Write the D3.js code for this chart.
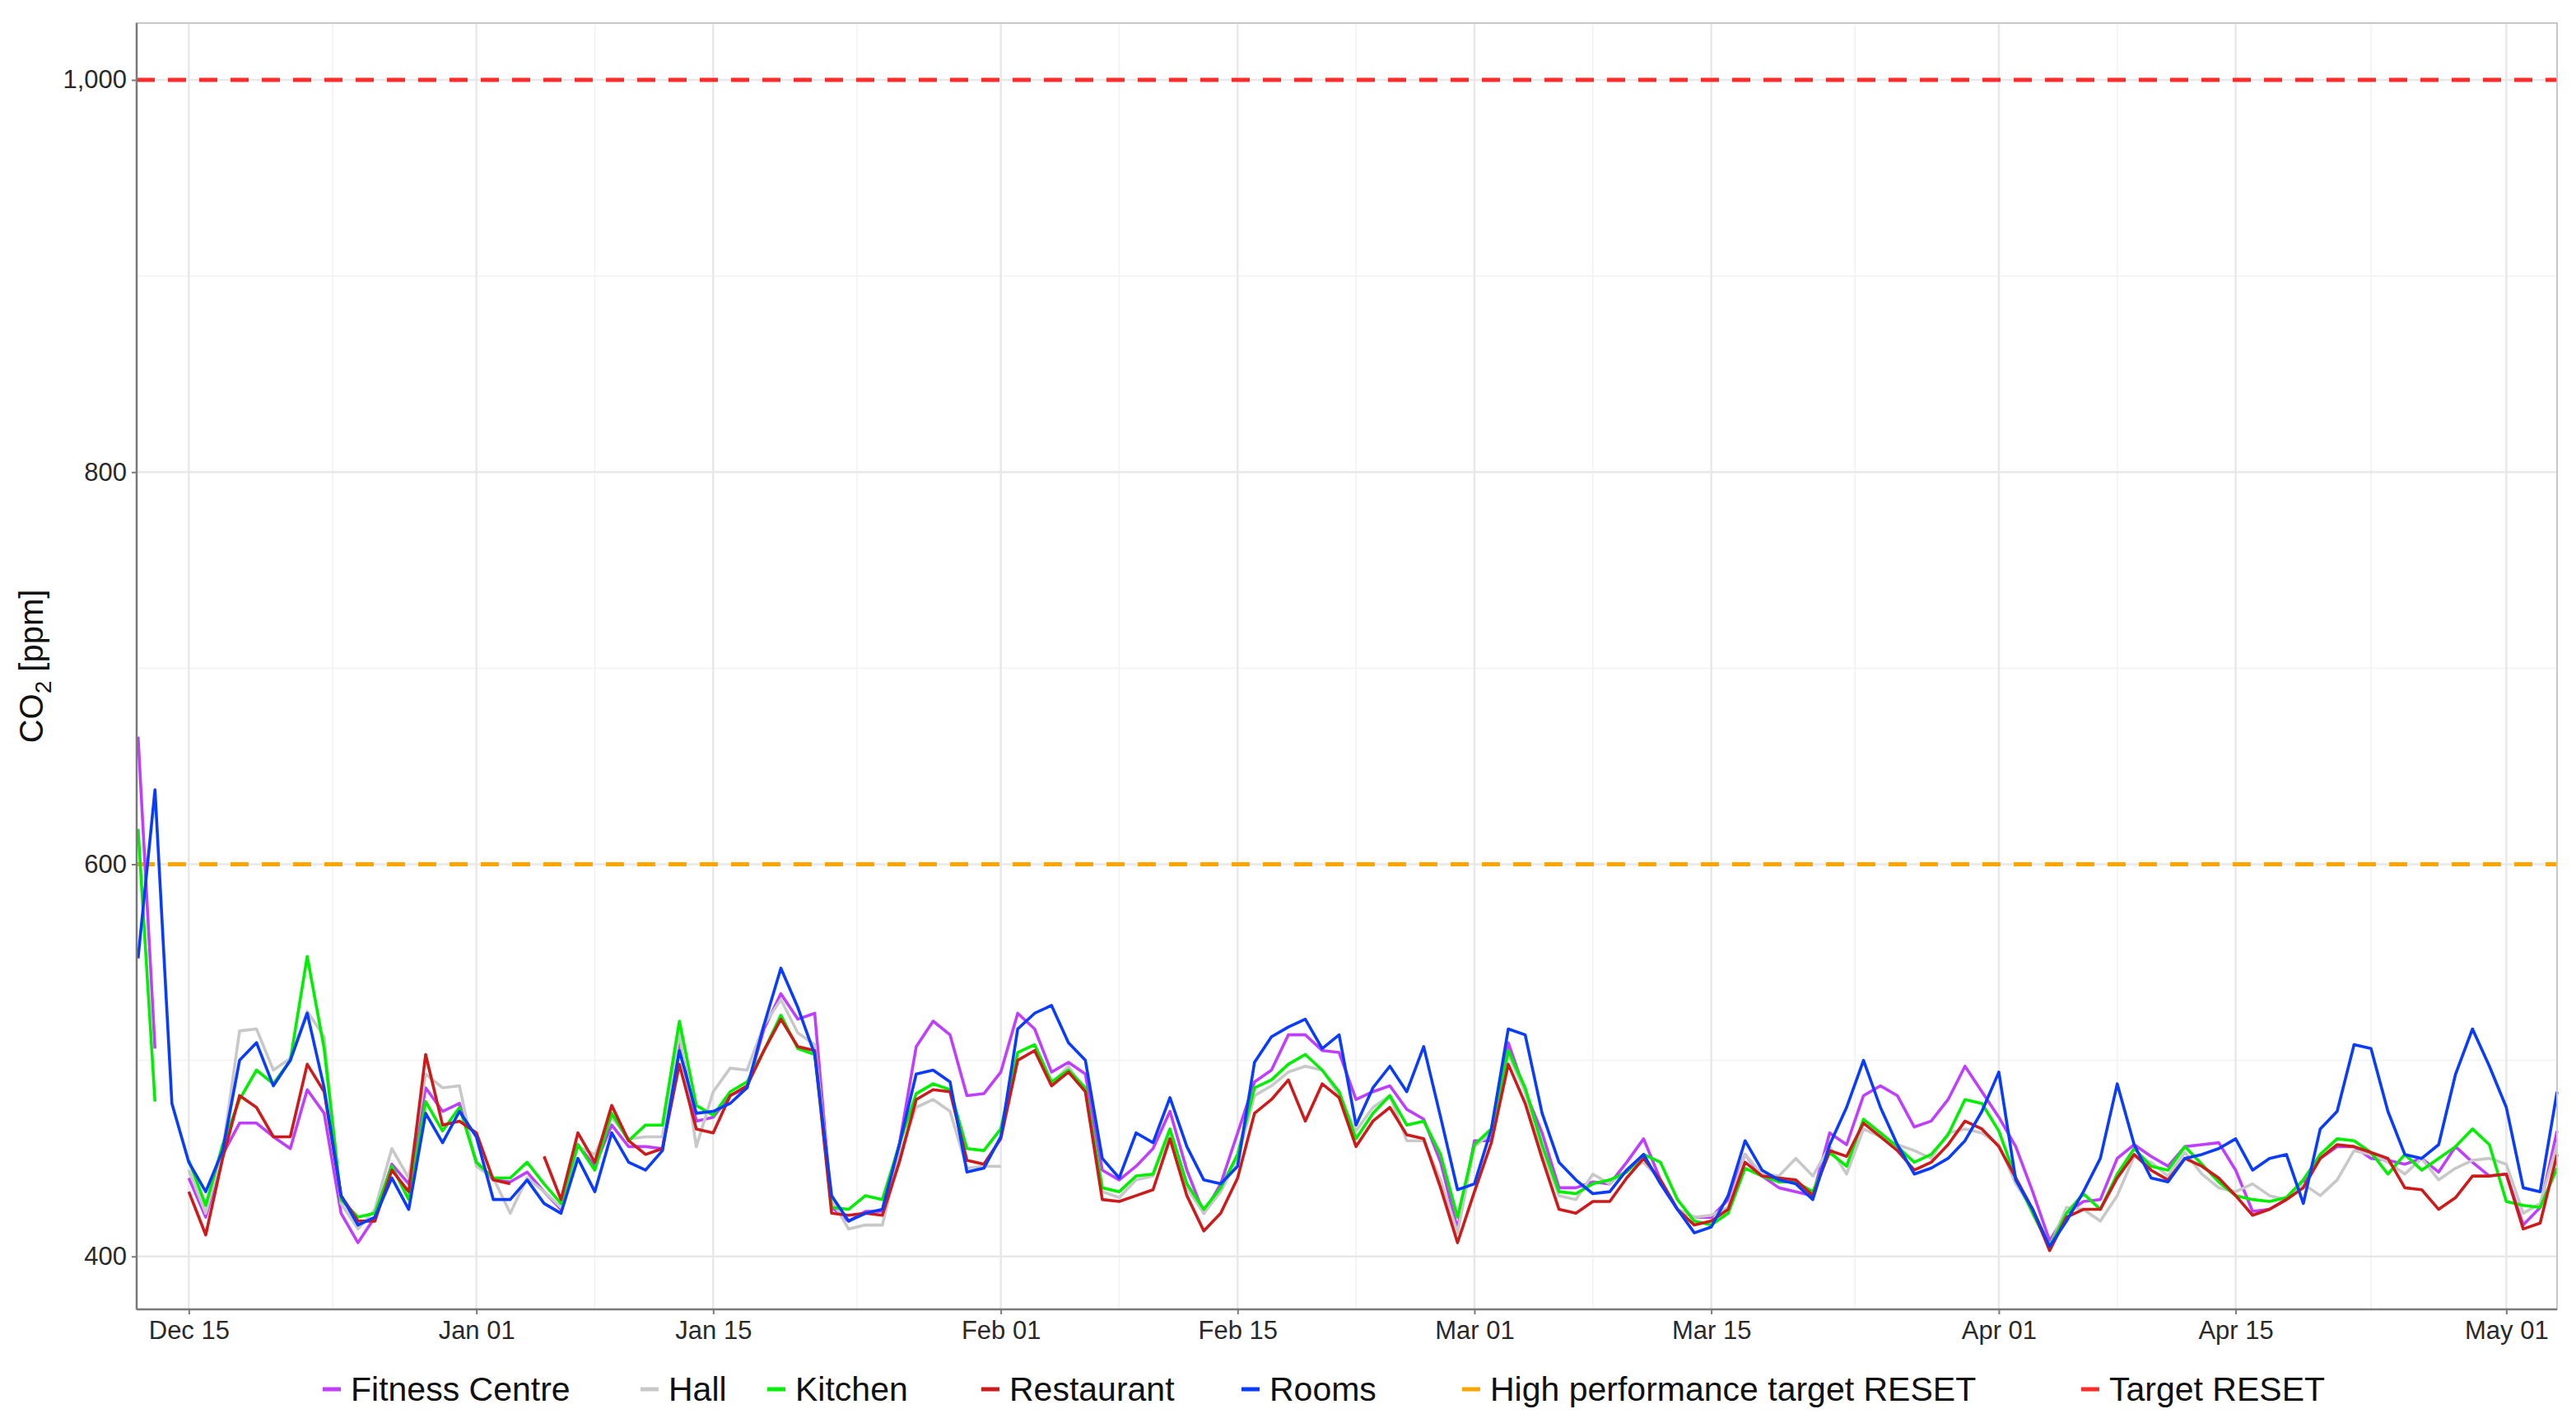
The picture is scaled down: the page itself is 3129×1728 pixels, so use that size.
<!DOCTYPE html>
<html>
<head>
<meta charset="utf-8">
<script src="https://cdn.jsdelivr.net/npm/d3@7"></script>
<style>
  body { margin: 0; background: white; }
  text { font-family: "Liberation Sans", Arial, sans-serif; }
</style>
</head>
<body>
<div id="chart"></div>
<script>
// daily values from Dec 12 (index 0) to May 03 (index 143)
const startDate = new Date(Date.UTC(2018, 11, 12));

const fitness = [665,506,null,440,420,452,468,468,461,455,485,473,422,407,420,447,437,486,474,478,448,439,438,443,433,424,457,446,467,456,456,455,510,469,471,482,486,516,534,521,524,425,418,
  423,423,457,507,520,513,482,483,494,524,516,494,499,493,444,439,446,455,474,444,422,437,463,489,495,513,513,505,504,480,484,487,475,470,448,414,459,459,509,484,463,435,
  435,438,437,448,460,439,424,420,420,429,452,441,435,433,431,463,457,482,487,482,466,469,480,497,484,471,456,433,408,422,428,429,450,457,451,446,456,457,458,444,423,424,429,437,
  450,456,456,450,449,447,450,443,456,448,441,442,416,425,464];
const hall = [null,null,null,444,422,454,515,516,495,501,525,512,427,414,424,455,440,493,486,487,446,440,422,440,433,425,456,452,471,460,461,461,514,456,484,496,495,518,531,514,508,429,414,
  416,416,452,476,480,474,445,446,446,null,505,488,497,484,433,430,439,441,463,435,422,433,450,482,487,494,497,495,482,464,476,482,459,459,439,412,456,463,503,484,454,431,
  429,442,437,444,448,439,424,420,421,425,452,442,441,450,441,456,442,465,461,457,454,450,463,465,463,457,437,424,405,425,424,418,431,451,448,441,453,442,435,433,437,431,429,437,
  431,439,454,452,448,442,450,439,445,449,450,447,422,427,457];
const kitchen = [618,479,null,449,426,457,480,495,488,500,553,506,429,420,422,446,429,479,464,476,448,440,440,448,437,427,457,444,473,459,467,467,520,477,472,484,489,505,523,506,503,425,424,
  431,429,457,483,488,485,455,454,465,504,508,489,495,486,435,433,441,442,465,437,424,435,452,486,490,498,503,495,484,460,473,482,467,469,452,420,457,465,505,486,457,433,
  432,437,439,443,452,448,429,418,416,422,445,441,438,438,433,453,446,470,463,456,448,452,462,480,478,464,440,422,405,422,432,424,442,455,446,444,456,447,438,431,429,428,430,439,
  452,460,459,453,442,452,444,450,456,465,457,428,426,425,445];
const restaurant = [null,null,null,433,411,450,482,476,461,461,498,484,431,418,418,444,433,503,467,469,463,439,437,null,451,429,463,448,477,459,452,455,498,465,463,482,487,505,521,507,505,422,421,
  422,421,448,480,485,484,449,447,460,500,505,487,494,484,429,428,431,434,460,431,413,422,440,473,480,490,469,488,481,456,469,476,462,460,435,407,433,458,498,478,450,424,
  422,428,428,440,450,439,424,416,418,424,448,441,440,439,431,454,451,468,461,454,444,448,457,469,465,456,440,424,403,420,424,424,440,452,444,439,450,446,440,431,421,424,429,435,
  450,457,456,453,450,435,434,424,430,441,441,442,414,417,452];
const rooms = [552,638,478,448,433,454,500,509,487,500,524,486,431,416,420,440,424,473,458,474,461,429,429,439,427,422,450,433,463,448,444,454,505,473,474,478,486,518,547,527,503,431,418,
  422,424,457,493,495,489,443,445,461,516,524,528,509,500,450,440,463,458,481,456,439,437,446,499,512,517,521,506,513,467,486,497,484,507,471,434,437,465,516,513,473,448,
  439,432,433,444,452,437,424,412,415,431,459,444,439,437,429,457,476,500,476,457,442,445,450,459,474,494,439,424,405,418,433,450,488,457,440,438,450,452,455,460,444,450,452,427,
  465,474,508,506,474,452,450,457,493,516,497,476,435,433,484];

const seriesNames = ["Fitness Centre", "Hall", "Kitchen", "Restaurant", "Rooms"];
const seriesValues = [fitness, hall, kitchen, restaurant, rooms];
const seriesColors = ["#bf3eff", "#c8c8c8", "#00ee00", "#cd1b1b", "#0a3cff"];

const targetNames = ["High performance target RESET", "Target RESET"];
const targetValues = [600, 1000];
const targetColors = ["#ffa500", "#ff2a2a"];

const yTicks = [400, 600, 800, 1000];
const xTickDates = [[2018,11,15],[2019,0,1],[2019,0,15],[2019,1,1],[2019,1,15],[2019,2,1],[2019,2,15],[2019,3,1],[2019,3,15],[2019,4,1]]
  .map(d => new Date(Date.UTC(d[0], d[1], d[2])));

let width = 3129, height = 1728;
let margin = { left: 166, right: 23, top: 28, bottom: 138 };
let iw = width - margin.left - margin.right;
let ih = height - margin.top - margin.bottom;

let dates = fitness.map((v, i) => d3.utcDay.offset(startDate, i));

let x = d3.scaleUtc()
  .domain([d3.utcHour.offset(dates[0], -2), dates[dates.length - 1]])
  .range([0, iw]);
let y = d3.scaleLinear().domain([373, 1029]).range([ih, 0]);

let svg = d3.select('#chart').append('svg')
  .attr('width', width).attr('height', height)
  .style('background', 'white');

let g = svg.append('g').attr('transform', `translate(${margin.left},${margin.top})`);

// grid
let minorY = [500, 700, 900];
g.selectAll('.minor-y').data(minorY).enter().append('line')
  .attr('x1', 0).attr('x2', iw).attr('y1', d => y(d)).attr('y2', d => y(d))
  .attr('stroke', '#f2f2f2').attr('stroke-width', 1.5);
let minorX = d3.pairs(xTickDates).map(p => new Date((+p[0] + +p[1]) / 2));
g.selectAll('.minor-x').data(minorX).enter().append('line')
  .attr('x1', d => x(d)).attr('x2', d => x(d)).attr('y1', 0).attr('y2', ih)
  .attr('stroke', '#f2f2f2').attr('stroke-width', 1.5);
g.selectAll('.major-y').data(yTicks).enter().append('line')
  .attr('x1', 0).attr('x2', iw).attr('y1', d => y(d)).attr('y2', d => y(d))
  .attr('stroke', '#e8e8e8').attr('stroke-width', 2.5);
g.selectAll('.major-x').data(xTickDates).enter().append('line')
  .attr('x1', d => x(d)).attr('x2', d => x(d)).attr('y1', 0).attr('y2', ih)
  .attr('stroke', '#e8e8e8').attr('stroke-width', 2.5);

// target lines
targetValues.forEach((v, i) => {
  g.append('line')
    .attr('x1', 0).attr('x2', iw).attr('y1', y(v)).attr('y2', y(v))
    .attr('stroke', targetColors[i]).attr('stroke-width', 5)
    .attr('stroke-dasharray', '22,16');
});

// series
let line = d3.line()
  .defined(d => d != null)
  .x((d, i) => x(dates[i]))
  .y(d => y(d));

seriesValues.forEach((vals, k) => {
  g.append('path')
    .attr('d', line(vals))
    .attr('fill', 'none')
    .attr('stroke', seriesColors[k])
    .attr('stroke-width', 3.6)
    .attr('stroke-linejoin', 'round');
});

// panel border and axes
g.append('rect').attr('width', iw).attr('height', ih)
  .attr('fill', 'none').attr('stroke', '#c8c8c8').attr('stroke-width', 2);
g.append('line').attr('x1', 0).attr('x2', 0).attr('y1', 0).attr('y2', ih)
  .attr('stroke', '#7a7a7a').attr('stroke-width', 2.5);
g.append('line').attr('x1', 0).attr('x2', iw).attr('y1', ih).attr('y2', ih)
  .attr('stroke', '#7a7a7a').attr('stroke-width', 2.5);

let yAxis = g.append('g').call(d3.axisLeft(y).tickValues(yTicks).tickSize(6).tickPadding(6));
let xAxis = g.append('g').attr('transform', `translate(0,${ih})`)
  .call(d3.axisBottom(x).tickValues(xTickDates).tickFormat(d3.utcFormat('%b %d')).tickSize(6).tickPadding(8));
[yAxis, xAxis].forEach(a => {
  a.select('.domain').remove();
  a.selectAll('.tick line').attr('stroke', '#7a7a7a').attr('stroke-width', 2);
  a.selectAll('text').attr('font-size', 31).attr('fill', '#2a2a2a');
});

// y title
let yt = svg.append('text')
  .attr('transform', `translate(52,${margin.top + ih / 2}) rotate(-90)`)
  .attr('text-anchor', 'middle')
  .attr('font-size', 40).attr('fill', '#111');
yt.append('tspan').text('CO');
yt.append('tspan').text('2').attr('font-size', 28).attr('dy', 10);
yt.append('tspan').text(' [ppm]').attr('dy', -10);

// legend
let legendItems = seriesNames.map((n, i) => ({ name: n, color: seriesColors[i] }))
  .concat(targetNames.map((n, i) => ({ name: n, color: targetColors[i] })));
let legendX = [392, 778, 932, 1192, 1508, 1776, 2528];
let lg = svg.append('g').attr('transform', 'translate(0,1687)');
legendItems.forEach((d, i) => {
  lg.append('line')
    .attr('x1', legendX[i]).attr('x2', legendX[i] + 22)
    .attr('stroke', d.color).attr('stroke-width', 5);
  lg.append('text')
    .attr('x', legendX[i] + 34).attr('y', 0).attr('dy', '0.35em')
    .attr('font-size', 41).attr('fill', '#111')
    .text(d.name);
});
</script>
</body>
</html>
